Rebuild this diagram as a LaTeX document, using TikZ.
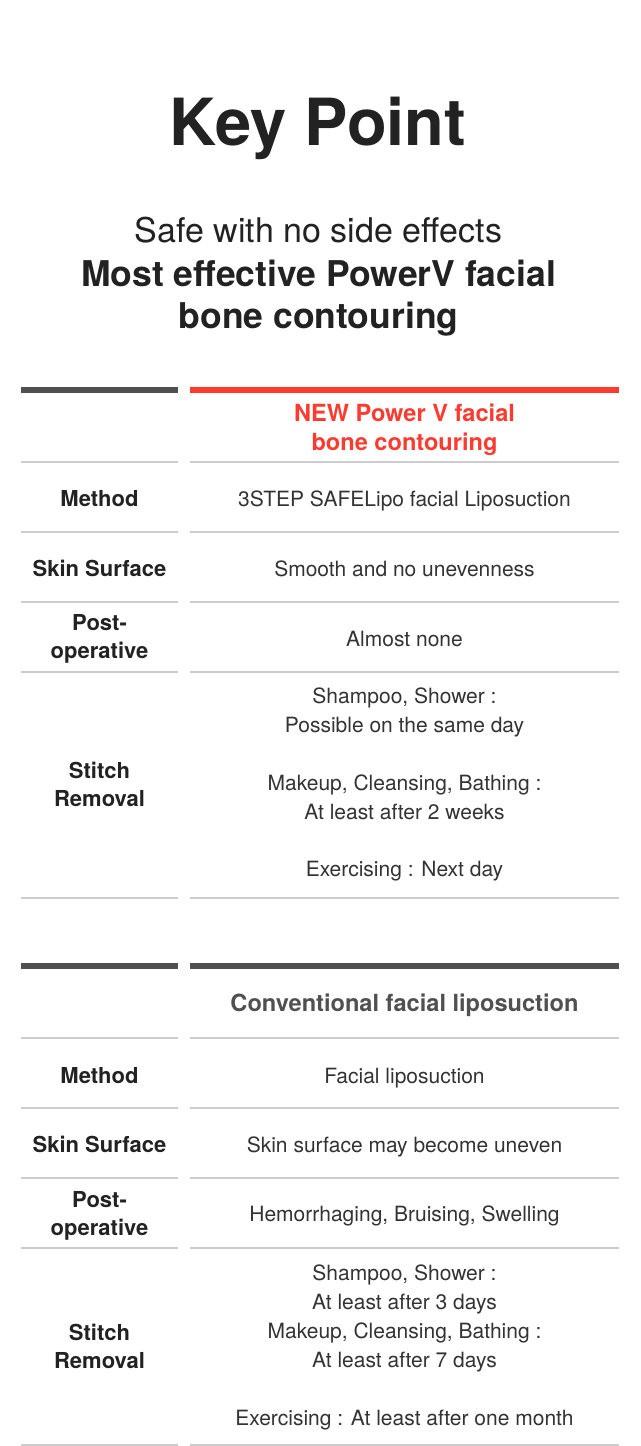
\documentclass[tikz,border=0pt]{standalone}
\usepackage{fontspec}
\setmainfont{TeX Gyre Heros}
\definecolor{barred}{HTML}{FF3B30}
\definecolor{bardark}{HTML}{505050}
\definecolor{rulegray}{HTML}{CCCCCC}
\definecolor{ink}{HTML}{222222}
\definecolor{soft}{HTML}{333333}
\begin{document}
\begin{tikzpicture}[x=1pt,y=-1pt,
  every node/.style={inner sep=0pt, outer sep=0pt, anchor=base},
  title/.style={text=ink, font=\fontsize{65}{70}\selectfont\bfseries},
  subthin/.style={text=ink, font=\fontsize{34}{40}\selectfont},
  subbold/.style={text=ink, font=\fontsize{35.5}{40}\selectfont\bfseries},
  headred/.style={text=barred, font=\fontsize{23.6}{28}\selectfont\bfseries},
  headgray/.style={text=bardark, font=\fontsize{23.6}{28}\selectfont\bfseries},
  lab/.style={text=ink, font=\fontsize{22}{26}\selectfont\bfseries},
  val/.style={text=soft, font=\fontsize{21}{25}\selectfont},
  topbar/.style={line width=6pt},
  rowrule/.style={draw=rulegray, line width=1.3pt}]
\fill[white] (0,0) rectangle (640,1446);
\useasboundingbox (0,0) rectangle (640,1446);

% titles
\node[title]   (t1) at (318,145)   {Key Point};
\node[subthin] (t2) at (318.5,242) {Safe with no side effects};
\node[subbold] (t3) at (318.5,286.5) {Most effective PowerV facial};
\node[subbold] (t4) at (318.5,328.5) {bone contouring};

% ---------- table 1 ----------
\draw[topbar, bardark] (21,390) -- (178,390);
\draw[topbar, barred]  (190,390) -- (619,390);
\foreach \yy in {462,532,602,672,898}{
  \draw[rowrule] (21,\yy) -- (178,\yy);
  \draw[rowrule] (190,\yy) -- (619,\yy);
}
\node[headred] (h1a) at (404.5,421.5) {NEW Power V facial};
\node[headred] (h1b) at (404.5,450)   {bone contouring};

\node[lab] (m1)  at (99.5,506.5) {Method};
\node[val] (m1v) at (404.5,506.5) {3STEP SAFELipo facial Liposuction};

\node[lab] (s1)  at (99.5,576.5) {Skin Surface};
\node[val] (s1v) at (404.5,576) {Smooth and no unevenness};

\node[lab] (p1a) at (99.5,630.5) {Post-};
\node[lab] (p1b) at (99.5,658)   {operative};
\node[val] (p1v) at (404.5,646)  {Almost none};

\node[lab] (r1a) at (99.5,778.5) {Stitch};
\node[lab] (r1b) at (99.5,806.5) {Removal};
\node[val] (r1v1) at (404.5,703.5) {Shampoo, Shower :};
\node[val] (r1v2) at (404.5,732.5) {Possible on the same day};
\node[val] (r1v3) at (404.5,790)   {Makeup, Cleansing, Bathing :};
\node[val] (r1v4) at (404.5,819)   {At least after 2 weeks};
\node[val] (r1v5) at (404.5,876.5) {Exercising : Next day};

% ---------- table 2 ----------
\draw[topbar, bardark] (21,966) -- (178,966);
\draw[topbar, bardark] (190,966) -- (619,966);
\foreach \yy in {1038,1108,1178,1248,1445}{
  \draw[rowrule] (21,\yy) -- (178,\yy);
  \draw[rowrule] (190,\yy) -- (619,\yy);
}
\node[headgray] (h2) at (404.5,1011) {Conventional facial liposuction};

\node[lab] (m2)  at (99.5,1083)  {Method};
\node[val] (m2v) at (404.5,1083) {Facial liposuction};

\node[lab] (s2)  at (99.5,1152.5) {Skin Surface};
\node[val] (s2v) at (404.5,1152)  {Skin surface may become uneven};

\node[lab] (p2a) at (99.5,1207.5) {Post-};
\node[lab] (p2b) at (99.5,1235)   {operative};
\node[val] (p2v) at (404.5,1221)  {Hemorrhaging, Bruising, Swelling};

\node[lab] (r2a) at (99.5,1340.5) {Stitch};
\node[lab] (r2b) at (99.5,1368.5) {Removal};
\node[val] (r2v1) at (404.5,1280.5) {Shampoo, Shower :};
\node[val] (r2v2) at (404.5,1309)   {At least after 3 days};
\node[val] (r2v3) at (404.5,1338)   {Makeup, Cleansing, Bathing :};
\node[val] (r2v4) at (404.5,1367)   {At least after 7 days};
\node[val] (r2v5) at (404.5,1425.5) {Exercising : At least after one month};
\end{tikzpicture}
\end{document}
